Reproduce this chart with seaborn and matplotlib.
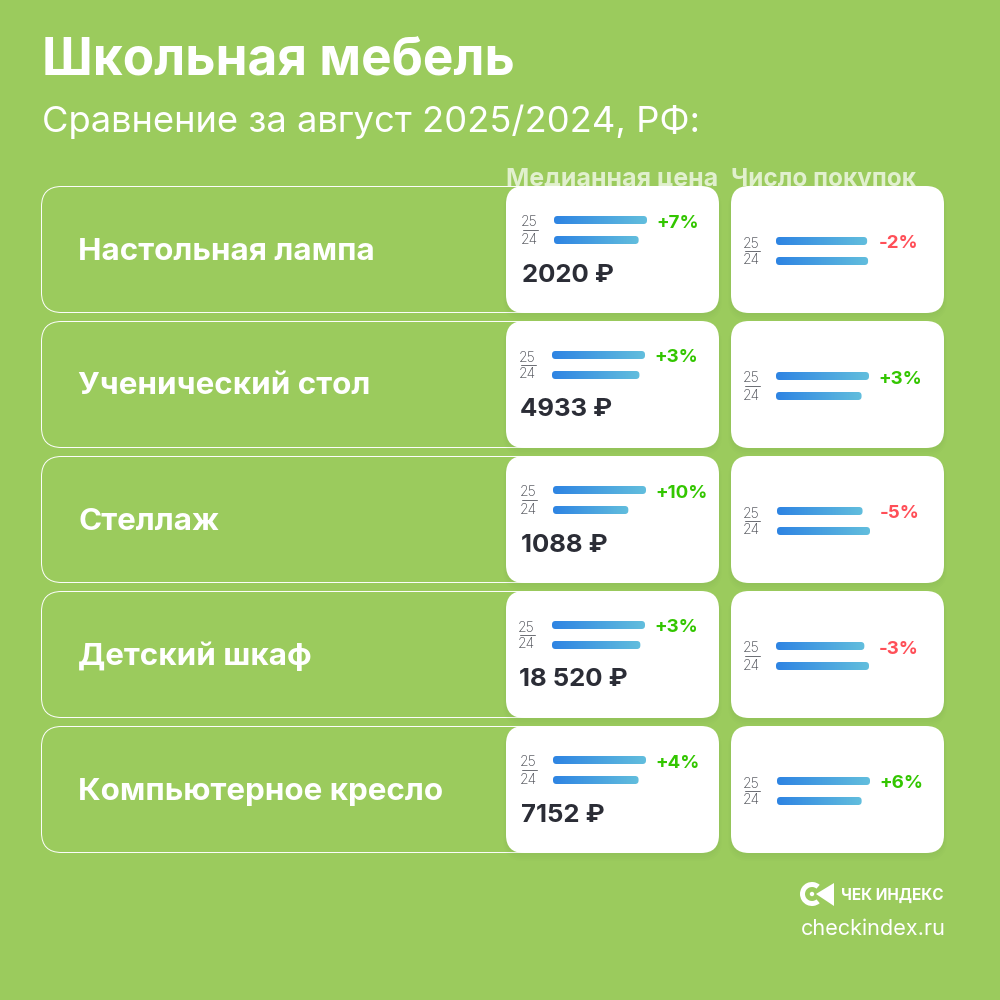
"""
School furniture comparison card, August 2025/2024.
"""

import matplotlib
matplotlib.use("Agg")
import matplotlib.pyplot as plt
import numpy as np
import seaborn as sns
from matplotlib.patches import FancyBboxPatch, Polygon, Wedge, Circle

sns.set_theme(style="white")
plt.rcParams['font.family'] = ['Inter', 'DejaVu Sans']

# data
categories = ["Настольная лампа", "Ученический стол", "Стеллаж", "Детский шкаф", "Компьютерное кресло"]
price_labels = ["2020 ₽", "4933 ₽", "1088 ₽", "18 520 ₽", "7152 ₽"]
price_change = ["+7%", "+3%", "+10%", "+3%", "+4%"]
count_change = ["-2%", "+3%", "-5%", "-3%", "+6%"]

# bar lengths, longest bar of a pair = about 100
price_25 = [100, 100, 100, 100, 100]
price_24 = [91, 94, 81, 95, 92]
count_25 = [98, 100, 92, 95, 100]
count_24 = [99, 92, 100, 100, 91]

year_labels = ["25", "24"]

# colours
BG = "#9BCB5D"
DARK = "#2B2D36"
GREEN = "#33C600"
RED = "#FF4F58"
PALE = "#E1F0CE"

# layout, pixels
row_top = [186, 321, 456, 591, 726]
price_x = [522, 520, 521, 519, 521]
price_bar_x = [554, 552, 553, 552, 553]
count_bar_x = [776, 776, 777, 776, 777]
price_pct_x = [656, 654, 655, 654, 655]
count_pct_x = [879, 878, 880, 879, 879]

fig = plt.figure(figsize=(10, 10), dpi=100, facecolor=BG)
ax = fig.add_axes([0, 0, 1, 1], zorder=1)
ax.set_xlim(0, 1000)
ax.set_ylim(1000, 0)
ax.axis("off")


def rounded(x, y, w, h, r, **kwargs):
    """Rounded box in pixel coordinates."""
    box = FancyBboxPatch((x + r, y + r), w - 2 * r, h - 2 * r,
                         boxstyle=f"round,pad={r},rounding_size={r}", **kwargs)
    ax.add_patch(box)
    return box


def draw_bars(values, left, top):
    """Bars go through a small seaborn axes, then get a gradient in the main one."""
    inset = fig.add_axes([left / 1000, 1 - (top + 40) / 1000, 93 / 1000, 40 / 1000], zorder=0)
    sns.barplot(x=values, y=year_labels, width=0.4, color="white", ax=inset)
    inset.set_xlim(0, 100)
    inset.set_ylim(1.5, -0.5)
    inset.axis("off")
    gradient = np.linspace(0, 1, 256).reshape(1, -1)
    cmap = matplotlib.colors.LinearSegmentedColormap.from_list("bar", ["#2E84E3", "#62BEDD"])
    for patch in inset.patches:
        ext = patch.get_window_extent()
        x0, x1 = ext.x0, ext.x1
        y0, y1 = 1000 - ext.y1, 1000 - ext.y0
        img = ax.imshow(gradient, extent=(x0, x1, y1, y0), cmap=cmap, aspect="auto", zorder=6)
        clip = rounded(x0, y0, x1 - x0, y1 - y0, 3.5, fc="none", ec="none", zorder=6)
        img.set_clip_path(clip)
    ax.set_xlim(0, 1000)
    ax.set_ylim(1000, 0)


def draw_fraction(x, y):
    """Small 25/24 stack, y is the divider line."""
    ax.text(x + 7.5, y - 7.5, "25", ha="center", va="center", fontsize=10, fontweight="light", color="#44464E", zorder=6)
    ax.text(x + 7.5, y + 9.5, "24", ha="center", va="center", fontsize=10, fontweight="light", color="#44464E", zorder=6)
    ax.plot([x + 0.5, x + 15.5], [y, y], color="#6A6C72", lw=0.7, zorder=6)


def pct_color(label):
    return GREEN if label.startswith("+") else RED


# heading
ax.text(42, 61, "Школьная мебель", fontsize=37, fontweight="bold", color="white", va="center")
ax.text(42, 122, "Сравнение за август 2025/2024, РФ:", fontsize=26.2, color="white", va="center")
ax.text(506, 179, "Медианная цена", fontsize=18, fontweight="bold", color=PALE, va="center", zorder=1)
ax.text(731, 179, "Число покупок", fontsize=17.5, fontweight="bold", color=PALE, va="center", zorder=1)

for i, name in enumerate(categories):
    top = row_top[i]
    rounded(41.5, top + 0.5, 660, 126, 20, fc="none", ec="white", lw=0.7, zorder=2)
    ax.text(78, top + 65.5, name, fontsize=22.6, fontweight="bold", color="white", va="center", zorder=3)

    for card_x in [506, 731]:
        # soft shadow below the card
        for k in range(4):
            rounded(card_x - k, top + 2, 213 + 2 * k, 127 + 2 * k, 18 + k,
                    fc="#5C7F3A", ec="none", alpha=0.025, zorder=3)
        rounded(card_x, top, 213, 127, 18, fc="white", ec="none", zorder=4)

    # price card
    draw_fraction(price_x[i], top + 44)
    draw_bars([price_25[i], price_24[i]], price_bar_x[i], top + 24)
    ax.text(price_pct_x[i], top + 37, price_change[i], fontsize=13.5, fontweight="bold",
            color=pct_color(price_change[i]), va="center", zorder=6)
    ax.text(price_x[i], top + 89, price_labels[i], fontsize=18.5, fontweight="bold",
            color=DARK, va="center", zorder=6)

    # count card
    draw_fraction(744, top + 65)
    draw_bars([count_25[i], count_24[i]], count_bar_x[i], top + 45)
    ax.text(count_pct_x[i], top + 58, count_change[i], fontsize=13.5, fontweight="bold",
            color=pct_color(count_change[i]), va="center", zorder=6)

# logo
ax.add_patch(Wedge((812, 894), 12, 50, 310, width=5, fc="white", ec="none", zorder=6))
ax.add_patch(Circle((812, 894), 2.2, fc="white", ec="none", zorder=6))
ax.add_patch(Polygon([[816, 894], [834, 883], [834, 906]], closed=True, fc="white", ec="none", zorder=6))
ax.text(841, 895, "ЧЕК ИНДЕКС", fontsize=11, fontweight="bold", color="white", va="center", zorder=6)
ax.text(801, 929, "checkindex.ru", fontsize=15.6, color="white", va="center", zorder=6)

fig.savefig("out.png", dpi=100, facecolor=BG)
